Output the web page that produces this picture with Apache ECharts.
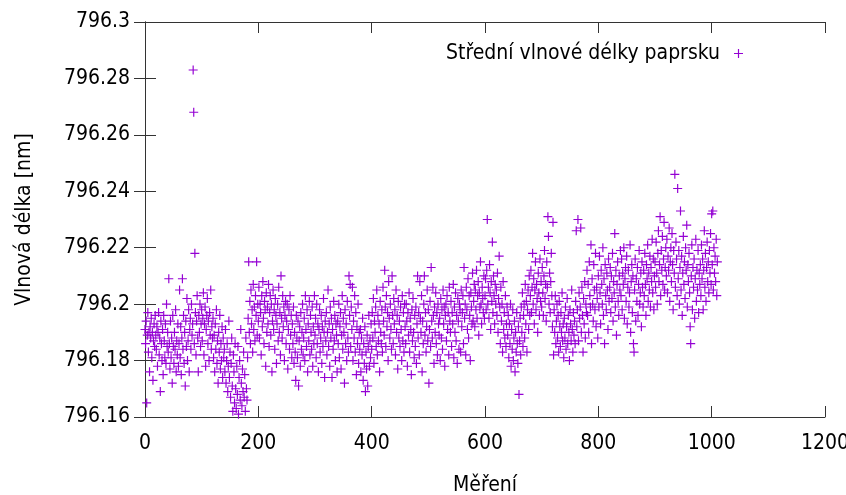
<!DOCTYPE html>
<html><head><meta charset="utf-8">
<script src="https://cdn.jsdelivr.net/npm/echarts@6/dist/echarts.min.js"></script>
<style>html,body{margin:0;padding:0;background:#fff}#c{width:846px;height:495px}</style>
</head><body><div id="c"></div>
<script>
const seriesName = "Střední vlnové délky paprsku";
const xLabel = "Měření";
const yLabel = "Vlnová délka [nm]";
const xTicks = [0, 200, 400, 600, 800, 1000, 1200];
const yTicks = [796.16, 796.18, 796.2, 796.22, 796.24, 796.26, 796.28, 796.3];

// measurement index starts at 0; one value per measurement
const wl000 = [
796.191,796.186,796.194,796.165,796.189,796.197,796.183,796.19,796.176,796.192,796.188,796.195,796.181,796.19,796.173,796.187,796.193,796.185,796.196,796.189,
796.184,796.192,796.178,796.19,796.197,796.182,796.188,796.169,796.194,796.186,796.18,796.191,796.175,796.196,796.187,796.181,796.193,796.179,796.2,796.185,
796.19,796.183,796.209,796.186,796.177,796.194,796.181,796.188,796.172,796.196,796.185,796.179,796.19,796.184,796.198,796.176,796.187,796.182,796.193,796.178,
796.186,796.205,796.181,796.192,796.175,796.188,796.209,796.184,796.196,796.179,796.19,796.171,796.194,796.185,796.202,796.18,796.187,796.198,796.176,796.191,
796.195,796.184,796.2,796.189,796.193,796.283,796.268,796.186,796.218,796.197,796.182,796.194,796.203,796.188,796.176,796.196,796.19,796.2,796.185,796.193,
796.198,796.187,796.195,796.204,796.182,796.193,796.199,796.178,796.191,796.196,796.202,796.186,796.194,796.18,796.197,796.189,796.205,796.184,796.192,796.188,
796.195,796.181,796.189,796.176,796.193,796.184,796.198,796.179,796.187,796.172,796.19,796.183,796.196,796.177,796.186,796.18,796.192,796.174,796.188,796.181,
796.184,796.176,796.191,796.172,796.18,796.186,796.169,796.178,796.194,796.174,796.183,796.167,796.179,796.188,796.171,796.162,796.182,796.176,796.165,796.186,
796.17,796.163,796.178,796.168,796.185,796.161,796.174,796.18,796.166,796.191,796.172,796.164,796.177,796.169,796.183,796.167,796.175,796.162,796.188,796.17,
796.166,796.181,796.195,796.215,796.19,796.201,796.186,796.205,796.193,796.198,796.183,796.207,796.191,796.199,796.187,796.203,796.196,796.215,796.189,796.2
];
const wl200 = [
796.194,796.206,796.188,796.2,796.197,796.182,796.203,796.192,796.208,796.195,796.186,796.201,796.198,796.178,796.204,796.19,796.199,796.193,796.207,796.185,
796.197,796.203,796.189,796.2,796.176,796.194,796.205,796.191,796.198,796.184,796.202,796.196,796.179,796.193,796.2,796.187,796.206,796.19,796.197,796.182,
796.21,796.195,796.188,796.203,796.192,796.199,796.18,796.196,796.201,796.186,796.194,796.2,796.177,796.191,796.198,796.184,796.203,796.189,796.196,796.181,
796.193,796.186,796.199,796.179,796.19,796.183,796.173,796.196,796.188,796.181,796.194,796.171,796.187,796.192,796.178,796.197,796.184,796.19,796.2,796.182,
796.188,796.195,796.18,796.203,796.191,796.185,796.198,796.176,796.193,796.187,796.201,796.182,796.196,796.19,796.184,796.199,796.178,796.192,796.186,796.203,
796.189,796.195,796.181,796.2,796.186,796.193,796.176,796.191,796.198,796.183,796.188,796.196,796.179,796.192,796.185,796.202,796.19,796.174,796.194,796.187,
796.197,796.182,796.19,796.205,796.185,796.193,796.178,796.199,796.188,796.195,796.174,796.191,796.184,796.201,796.187,796.196,796.18,796.193,796.189,796.176,
796.194,796.186,796.2,796.181,796.192,796.197,796.177,796.189,796.203,796.184,796.195,796.19,796.172,796.198,796.186,796.193,796.18,796.201,796.188,796.183,
796.21,796.196,796.207,796.185,796.199,796.191,796.206,796.18,796.194,796.188,796.203,796.183,796.197,796.175,796.192,796.186,796.2,796.179,796.19,796.184,
796.191,796.176,796.188,796.182,796.195,796.173,796.186,796.179,796.192,796.169,796.183,796.177,796.189,796.171,796.185,796.196,796.178,796.187,796.181,796.193
];
const wl400 = [
796.184,796.197,796.188,796.202,796.179,796.194,796.19,796.199,796.185,796.205,796.182,796.196,796.187,796.193,796.176,796.201,796.19,796.186,796.198,796.183,
796.206,796.194,796.189,796.212,796.199,796.185,796.203,796.192,796.197,796.18,796.208,796.195,796.188,796.2,796.191,796.184,796.21,796.196,796.186,796.202,
796.193,796.198,796.182,796.205,796.19,796.196,796.177,796.201,796.188,796.194,796.185,796.199,796.191,796.18,796.203,796.187,796.197,796.183,796.2,796.192,
796.186,796.2,796.194,796.178,796.197,796.189,796.204,796.183,796.195,796.191,796.175,796.198,796.187,796.202,796.19,796.181,796.196,796.185,796.199,796.179,
796.193,796.21,796.188,796.197,796.182,796.208,796.195,796.19,796.203,796.176,796.194,796.186,796.2,796.21,796.189,796.197,796.183,796.192,796.205,796.187,
796.198,796.172,796.191,796.201,796.185,796.213,796.194,796.188,796.206,796.196,796.179,796.199,796.19,796.204,796.186,796.197,796.182,796.2,796.193,796.189,
796.195,796.18,796.202,796.188,796.198,796.184,796.205,796.193,796.199,796.178,796.196,796.2,796.187,796.203,796.191,796.197,796.182,796.206,796.194,796.19,
796.201,796.185,796.197,796.193,796.207,796.181,796.199,796.19,796.204,796.187,796.196,796.179,796.202,796.194,796.184,796.2,796.198,796.183,796.205,796.192,
796.197,796.203,796.186,796.213,796.195,796.2,796.182,796.206,796.198,796.191,796.209,796.188,796.203,796.196,796.18,796.204,796.199,796.193,796.211,796.194,
796.201,796.207,796.192,796.205,796.198,796.212,796.195,796.203,796.208,796.189,796.204,796.199,796.215,796.2,796.193,796.206,796.202,796.197,796.21,796.195
];
const wl600 = [
796.203,796.209,796.198,796.212,796.23,796.2,796.206,796.195,796.214,796.204,796.191,796.208,796.201,796.222,796.197,796.21,796.203,796.193,796.207,796.2,
796.205,796.196,796.211,796.19,796.202,796.217,796.199,796.186,796.206,796.194,796.2,796.183,796.208,796.191,796.197,796.188,796.203,796.185,796.193,796.199,
796.189,796.196,796.181,796.193,796.186,796.2,796.178,796.191,796.184,796.198,796.18,796.188,796.194,796.176,796.19,796.183,796.197,796.186,796.179,796.192,
796.168,796.187,796.195,796.182,796.199,796.19,796.204,796.185,796.196,796.2,796.188,796.207,796.193,796.201,796.183,796.198,796.205,796.191,796.21,796.196,
796.203,796.212,796.197,796.206,796.218,796.2,796.209,796.193,796.205,796.215,796.198,796.207,796.202,796.19,796.211,796.204,796.196,796.216,796.201,796.208,
796.199,796.213,796.204,796.196,796.21,796.219,796.202,796.207,796.194,796.215,796.206,796.231,796.224,796.2,796.211,796.197,796.208,796.218,796.203,796.192,
796.229,796.182,796.198,796.19,796.203,796.186,796.194,796.2,796.188,796.196,796.183,796.201,796.192,796.185,796.197,796.19,796.204,796.187,796.193,796.181,
796.195,796.188,796.199,796.184,796.192,796.202,796.186,796.196,796.19,796.18,796.198,796.193,796.187,796.205,796.191,796.183,796.197,796.189,796.194,796.186,
796.201,796.226,796.192,796.198,796.23,796.187,796.204,796.195,796.199,796.227,796.19,796.206,796.196,796.183,796.202,796.193,796.208,796.188,796.2,796.197,
796.212,796.196,796.207,796.19,796.215,796.203,796.199,796.221,796.186,796.209,796.2,796.194,796.214,796.205,796.198,796.218,796.192,796.206,796.202,796.188
];
const wl800 = [
796.21,796.199,796.217,796.204,796.193,796.212,796.207,796.2,796.22,796.196,796.209,796.186,796.214,796.203,796.198,796.211,796.205,796.191,796.216,796.201,
796.206,796.213,796.197,796.21,796.202,796.218,796.194,796.208,796.204,796.225,796.199,796.212,796.189,796.207,796.215,796.201,796.196,796.21,796.205,796.219,
796.203,796.216,796.198,796.211,796.207,796.22,796.195,796.209,796.213,796.201,796.217,796.193,796.206,796.212,796.199,796.204,796.221,796.19,796.208,796.214,
796.197,796.21,796.186,796.183,796.205,796.216,796.194,796.209,796.201,796.213,796.196,796.207,796.219,796.2,796.204,796.211,796.192,796.215,796.206,796.199,
796.212,796.203,796.218,796.207,796.196,796.214,796.209,796.221,796.201,796.211,796.205,796.217,796.199,796.213,796.208,796.223,796.204,796.216,796.198,796.21,
796.215,796.206,796.222,796.211,796.2,796.218,796.226,796.208,796.214,796.231,796.203,796.219,796.212,796.224,796.207,796.216,796.229,796.205,796.213,796.22,
796.21,796.223,796.204,796.217,796.212,796.227,796.201,796.215,796.22,796.208,796.225,796.214,796.198,796.219,796.211,796.246,796.206,796.222,796.216,796.203,
796.241,796.209,796.219,796.2,796.213,796.233,796.205,796.217,796.196,796.211,796.224,796.207,796.215,796.202,796.22,796.212,796.228,796.199,796.214,796.208,
796.218,796.204,796.192,796.186,796.21,796.221,796.198,796.213,796.206,796.216,796.195,796.209,796.223,796.201,796.212,796.205,796.219,796.197,796.211,796.207,
796.214,796.203,796.221,796.209,796.216,796.198,796.212,796.226,796.206,796.218,796.201,796.213,796.222,796.208,796.215,796.204,796.219,796.211,796.225,796.207,
796.232,796.214,796.233,796.205,796.22,796.211,796.217,796.208,796.223,796.203,796.215
];

const wavelengths = [].concat(wl000, wl200, wl400, wl600, wl800);
const points = wavelengths.map((v, i) => [i, v]);

const plus = 'path://M0,4.35H10V5.65H0Z M4.35,0H5.65V10H4.35Z';
const FONT = "'DejaVu Sans Condensed', 'Liberation Sans Narrow', sans-serif";
const fmtY = v => String(parseFloat(Number(v).toFixed(2)));
const fmtX = v => String(Math.round(v));
const axisCol = '#333';

const chart = echarts.init(document.getElementById('c'), null, {renderer: 'canvas'});
chart.setOption({
  animation: false,
  backgroundColor: '#fff',
  textStyle: {fontFamily: FONT},
  grid: {left: 145, right: 21, top: 22, bottom: 78, containLabel: false, outerBoundsMode: 'none'},
  legend: {
    data: [{name: seriesName, icon: plus}],
    right: 98, top: 38,
    align: 'right',
    itemWidth: 9, itemHeight: 9,
    textStyle: {fontFamily: FONT, fontSize: 21, color: '#000', padding: [0, 9, 0, 0]}
  },
  xAxis: [{
    type: 'value', min: xTicks[0], max: xTicks[xTicks.length - 1], interval: 200,
    name: xLabel, nameLocation: 'middle', nameGap: 58,
    nameTextStyle: {fontFamily: FONT, fontSize: 21, color: '#000'},
    axisLine: {show: true, lineStyle: {color: axisCol, width: 1}},
    axisTick: {show: true, inside: true, length: 11, lineStyle: {color: axisCol}},
    axisLabel: {fontFamily: FONT, fontSize: 21, color: '#000', margin: 16, formatter: fmtX},
    splitLine: {show: false}
  }, {
    type: 'value', position: 'top', min: xTicks[0], max: xTicks[xTicks.length - 1], interval: 200,
    axisLine: {show: true, lineStyle: {color: axisCol, width: 1}},
    axisTick: {show: true, inside: true, length: 11, lineStyle: {color: axisCol}},
    axisLabel: {show: false}, splitLine: {show: false}
  }],
  yAxis: [{
    type: 'value', min: yTicks[0], max: yTicks[yTicks.length - 1], interval: 0.02,
    name: yLabel, nameLocation: 'middle', nameGap: 110, nameRotate: 90,
    nameTextStyle: {fontFamily: FONT, fontSize: 21, color: '#000'},
    axisLine: {show: true, lineStyle: {color: axisCol, width: 1}},
    axisTick: {show: true, inside: true, length: 11, lineStyle: {color: axisCol}},
    axisLabel: {fontFamily: FONT, fontSize: 21, color: '#000', margin: 15, formatter: fmtY},
    splitLine: {show: false}
  }, {
    type: 'value', position: 'right', min: yTicks[0], max: yTicks[yTicks.length - 1], interval: 0.02,
    axisLine: {show: true, lineStyle: {color: axisCol, width: 1}},
    axisTick: {show: true, inside: true, length: 11, lineStyle: {color: axisCol}},
    axisLabel: {show: false}, splitLine: {show: false}
  }],
  series: [{
    name: seriesName, type: 'scatter', xAxisIndex: 0, yAxisIndex: 0,
    data: points, symbol: plus, symbolSize: 9,
    itemStyle: {color: '#9400d3', opacity: 1},
    emphasis: {disabled: true}
  }]
});
</script></body></html>
